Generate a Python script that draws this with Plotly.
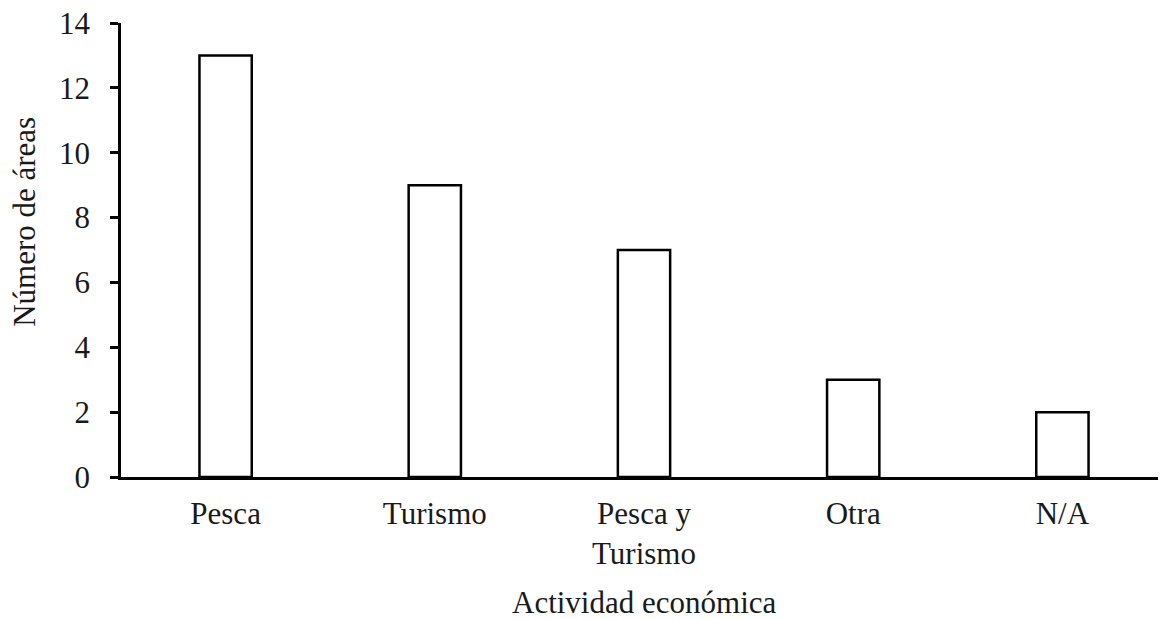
import plotly.graph_objects as go

categories = ["Pesca", "Turismo", "Pesca y<br>Turismo", "Otra", "N/A"]
values = [13, 9, 7, 3, 2]
y_ticks = [0, 2, 4, 6, 8, 10, 12, 14]

FONT = "Liberation Serif, Times New Roman, serif"

fig = go.Figure(go.Bar(
    x=categories, y=values, width=0.25,
    marker=dict(color="white", line=dict(color="black", width=2.5)),
))

# note: the page body adds an 8px offset, margins compensate for it
fig.update_layout(
    width=1166, height=619,
    margin=dict(l=113, r=7, t=15, b=150),
    plot_bgcolor="white", paper_bgcolor="white",
    font=dict(family=FONT, size=31, color="#1a1a1a"),
    showlegend=False,
    bargap=0.75,
)
fig.update_xaxes(
    showline=True, linecolor="black", linewidth=2.5,
    ticks="", showgrid=False, ticklabelstandoff=7, automargin=False,
)
fig.update_yaxes(
    range=[0, 14], tickvals=y_ticks,
    showline=True, linecolor="black", linewidth=2.5,
    ticks="outside", ticklen=8, tickwidth=2.5, tickcolor="black",
    showgrid=False, zeroline=False, ticklabelstandoff=14, automargin=False,
    ticklabeloverflow="allow",
)
fig.add_annotation(
    text="Actividad económica", xref="paper", yref="paper",
    x=0.5, y=-0.2775, xanchor="center", yanchor="middle",
    showarrow=False, font=dict(size=31),
)
fig.add_annotation(
    text="Número de áreas", xref="paper", yref="paper",
    x=-0.0918, y=0.562, xanchor="center", yanchor="middle", textangle=-90,
    showarrow=False, font=dict(size=31),
)

fig.write_html("out.html")
